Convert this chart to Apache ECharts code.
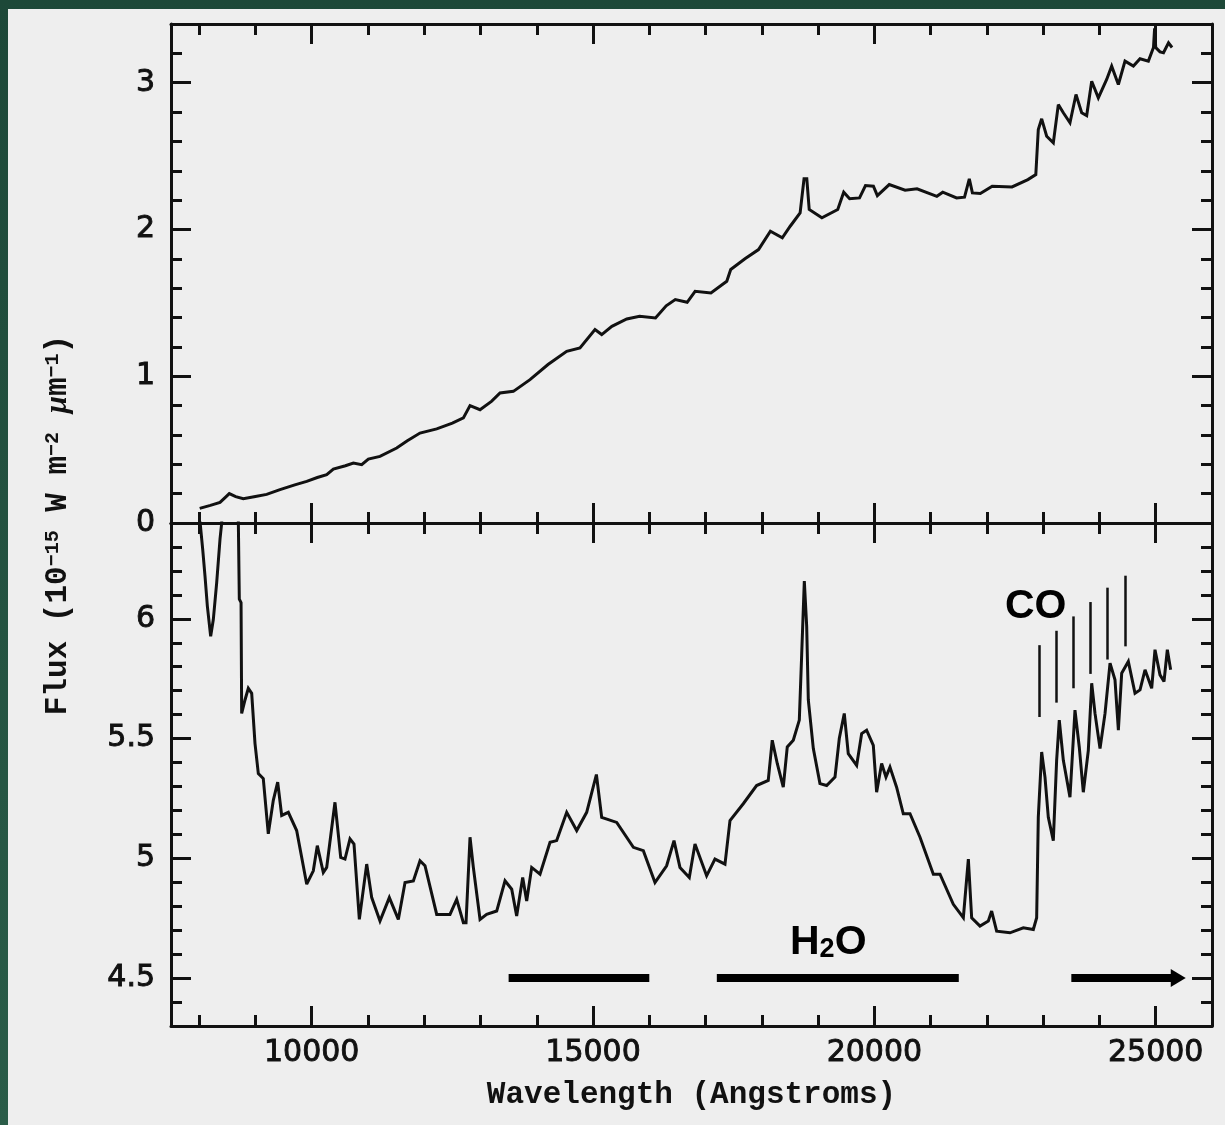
<!DOCTYPE html>
<html><head><meta charset="utf-8">
<script src="https://cdn.jsdelivr.net/npm/echarts@6/dist/echarts.min.js"></script>
<style>
html,body{margin:0;padding:0;width:1225px;height:1125px;overflow:hidden;background:linear-gradient(#1d4838,#2a5c48);}
#c{position:absolute;left:8px;top:9px;width:1217px;height:1116px;}
</style></head><body><div id="c"></div>
<script>
// ---- data ----
const topWavelength = [8010,8200,8371,8480,8536,8650,8785,9000,9200,9437,9700,9912,10100,10267,10385,10600,10741,10889,11007,11214,11511,11700,11925,12222,12500,12696,12814,12992,13200,13347,13584,13880,14200,14532,14768,15035,15154,15335,15600,15828,16110,16300,16462,16673,16814,17095,17377,17447,17700,17941,18152,18364,18504,18680,18750,18799,18842,19067,19349,19455,19560,19736,19842,19983,20053,20264,20546,20758,21110,21215,21461,21602,21687,21742,21883,22094,22446,22728,22869,22913,22973,23062,23180,23269,23358,23476,23583,23684,23773,23862,23980,24128,24217,24336,24454,24603,24721,24869,24960,24980,25000,25076,25138,25227,25290];
const topFlux = [0.10,0.12,0.14,0.18,0.20,0.18,0.165,0.18,0.195,0.227,0.26,0.284,0.31,0.33,0.368,0.39,0.409,0.397,0.436,0.454,0.511,0.56,0.613,0.641,0.68,0.716,0.80,0.772,0.83,0.886,0.897,0.977,1.08,1.17,1.193,1.318,1.284,1.34,1.39,1.408,1.397,1.48,1.522,1.504,1.579,1.568,1.647,1.727,1.80,1.863,1.988,1.943,2.022,2.113,2.345,2.345,2.136,2.079,2.136,2.254,2.209,2.215,2.299,2.295,2.231,2.306,2.267,2.277,2.226,2.254,2.215,2.22,2.345,2.249,2.245,2.295,2.29,2.34,2.374,2.681,2.754,2.635,2.59,2.851,2.795,2.727,2.92,2.795,2.776,3.01,2.897,3.022,3.113,2.988,3.147,3.113,3.163,3.147,3.24,3.37,3.24,3.21,3.204,3.272,3.24];

const bottomWavelength = [8010,8063,8104,8146,8205,8252,8312,8371,8401,8470,8640,8697,8714,8745,8756,8815,8874,8934,8993,9052,9140,9229,9318,9396,9467,9585,9733,9912,10029,10100,10207,10267,10414,10516,10592,10681,10752,10847,10978,11067,11214,11380,11540,11659,11807,11925,12014,12222,12458,12577,12696,12743,12814,12873,12992,13110,13288,13436,13555,13643,13750,13821,13910,14058,14236,14354,14532,14710,14887,15060,15154,15421,15717,15894,16101,16308,16439,16545,16711,16812,17019,17167,17345,17434,17670,17907,18114,18185,18274,18381,18452,18559,18666,18708,18755,18797,18826,18915,19033,19152,19300,19377,19465,19536,19685,19774,19862,19981,20040,20129,20206,20277,20395,20514,20633,20811,21048,21166,21403,21581,21670,21729,21877,22025,22084,22173,22410,22647,22825,22884,22913,22973,23032,23091,23180,23239,23286,23358,23476,23565,23641,23713,23802,23862,23921,24010,24099,24188,24276,24336,24395,24513,24632,24721,24810,24928,24987,25076,25147,25206,25265];
const bottomFlux = [6.42,6.291,6.179,6.053,5.927,5.997,6.151,6.333,6.40,7.0,7.0,6.40,6.082,6.068,5.605,5.661,5.71,5.689,5.479,5.354,5.333,5.102,5.242,5.318,5.179,5.192,5.116,4.892,4.948,5.053,4.941,4.962,5.234,5.004,4.997,5.081,5.06,4.745,4.976,4.836,4.738,4.836,4.745,4.899,4.906,4.99,4.969,4.766,4.766,4.829,4.731,4.731,5.088,4.962,4.745,4.766,4.78,4.906,4.871,4.759,4.92,4.822,4.962,4.934,5.067,5.074,5.192,5.116,5.192,5.35,5.171,5.15,5.046,5.032,4.899,4.969,5.074,4.962,4.92,5.06,4.927,4.997,4.976,5.158,5.228,5.304,5.325,5.493,5.396,5.297,5.465,5.493,5.577,5.85,6.158,5.969,5.661,5.458,5.312,5.304,5.339,5.501,5.605,5.437,5.388,5.521,5.535,5.472,5.276,5.396,5.339,5.381,5.297,5.186,5.186,5.088,4.934,4.934,4.808,4.752,4.997,4.752,4.717,4.738,4.78,4.696,4.689,4.71,4.703,4.752,5.171,5.444,5.339,5.171,5.074,5.409,5.577,5.409,5.255,5.619,5.465,5.276,5.451,5.731,5.605,5.458,5.605,5.815,5.745,5.535,5.773,5.822,5.689,5.703,5.787,5.71,5.871,5.766,5.738,5.871,5.787];

// axis ticks and labels
const xMajorTicks = [10000,15000,20000,25000];
const xMinorTicks = [8000,9000,11000,12000,13000,14000,16000,17000,18000,19000,21000,22000,23000,24000];
const topMajorTicks = [0,1,2,3];
const topMinorTicks = [0.2,0.4,0.6,0.8,1.2,1.4,1.6,1.8,2.2,2.4,2.6,2.8,3.2];
const bottomMajorTicks = [4.5,5,5.5,6];
const bottomMinorTicks = [4.4,4.6,4.7,4.8,4.9,5.1,5.2,5.3,5.4,5.6,5.7,5.8,5.9,6.1,6.2,6.3];

// CO bandheads (wavelength, marker bottom, marker top)
const coWavelength = [22935,23227,23535,23829,24142,24461];
const coMarkLow = [5.59,5.65,5.71,5.77,5.83,5.885];
const coMarkHigh = [5.89,5.95,6.01,6.07,6.13,6.18];
// H2O absorption bands
const h2oStart = [13500,17200,23500];
const h2oEnd = [16000,21500,25400];
const h2oLevel = 4.5;

// ---- chart ----
const INK = '#111';
const X_MIN = 7500, X_MAX = 26000;
const labelFont = {color: INK, fontFamily: 'DejaVu Sans', fontSize: 30, textBorderColor: INK, textBorderWidth: 0.9};

function xAxis(grid, pos, ticks, len, labels) {
  return {type: 'value', gridIndex: grid, position: pos, min: X_MIN, max: X_MAX,
    axisLine: {show: len > 15, onZero: false, lineStyle: {color: INK, width: 3}},
    axisTick: {show: true, inside: true, length: len, customValues: ticks, lineStyle: {color: INK, width: 3}},
    axisLabel: Object.assign({show: !!labels, customValues: ticks, margin: 12, formatter: v => String(v)}, labelFont),
    splitLine: {show: false}, minorTick: {show: false}};
}
function yAxis(grid, pos, min, max, ticks, len, labels) {
  return {type: 'value', gridIndex: grid, position: pos, min: min, max: max,
    axisLine: {show: len > 15, onZero: false, lineStyle: {color: INK, width: 3}},
    axisTick: {show: true, inside: true, length: len, customValues: ticks, lineStyle: {color: INK, width: 3}},
    axisLabel: Object.assign({show: !!labels, customValues: ticks, margin: 16, formatter: v => String(v)}, labelFont),
    splitLine: {show: false}, minorTick: {show: false}};
}

const MAJ = 20, MIN = 11;
const option = {
  animation: false,
  backgroundColor: '#eeeeee',
  grid: [
    {left: 163, top: 15, width: 1041, height: 499},
    {left: 163, top: 514, width: 1041, height: 503}
  ],
  xAxis: [
    xAxis(0, 'bottom', xMajorTicks, MAJ, false),
    xAxis(0, 'bottom', xMinorTicks, MIN, false),
    xAxis(0, 'top', xMajorTicks, MAJ, false),
    xAxis(0, 'top', xMinorTicks, MIN, false),
    xAxis(1, 'top', xMajorTicks, MAJ, false),
    xAxis(1, 'top', xMinorTicks, MIN, false),
    xAxis(1, 'bottom', xMajorTicks, MAJ, true),
    xAxis(1, 'bottom', xMinorTicks, MIN, false)
  ],
  yAxis: [
    yAxis(0, 'left', 0, 3.4, topMajorTicks, MAJ, true),
    yAxis(0, 'left', 0, 3.4, topMinorTicks, MIN, false),
    yAxis(0, 'right', 0, 3.4, topMajorTicks, MAJ, false),
    yAxis(0, 'right', 0, 3.4, topMinorTicks, MIN, false),
    yAxis(1, 'left', 4.3, 6.4, bottomMajorTicks, MAJ, true),
    yAxis(1, 'left', 4.3, 6.4, bottomMinorTicks, MIN, false),
    yAxis(1, 'right', 4.3, 6.4, bottomMajorTicks, MAJ, false),
    yAxis(1, 'right', 4.3, 6.4, bottomMinorTicks, MIN, false)
  ],
  series: [
    {type: 'line', xAxisIndex: 0, yAxisIndex: 0, showSymbol: false, symbol: 'none', clip: true,
     lineStyle: {color: INK, width: 3, join: 'miter', miterLimit: 3}, z: 5,
     data: topWavelength.map((w, i) => [w, topFlux[i]])},
    {type: 'line', xAxisIndex: 4, yAxisIndex: 4, showSymbol: false, symbol: 'none', clip: true,
     lineStyle: {color: INK, width: 3, join: 'miter', miterLimit: 3}, z: 5,
     data: bottomWavelength.map((w, i) => [w, bottomFlux[i]]),
     markLine: {silent: true, symbol: ['none', 'none'], label: {show: false},
       lineStyle: {color: INK, width: 2.5, type: 'solid'},
       data: coWavelength.map((w, i) => [{coord: [w, coMarkLow[i]]}, {coord: [w, coMarkHigh[i]]}])}},
    {type: 'line', xAxisIndex: 4, yAxisIndex: 4, showSymbol: false, symbol: 'none', data: [],
     markLine: {silent: true, symbol: ['none', 'none'], label: {show: false},
       lineStyle: {color: '#000', width: 8, type: 'solid'},
       data: h2oStart.map((s, i) => [
         {coord: [s, h2oLevel], symbol: 'none'},
         {coord: [h2oEnd[i], h2oLevel], symbol: i === h2oStart.length - 1 ? 'triangle' : 'none', symbolSize: [18, 15]}
       ])}}
  ],
  graphic: [
    {type: 'text', x: 683.5, y: 1086, style: {text: 'Wavelength (Angstroms)', fill: INK,
      fontFamily: 'Liberation Mono', fontWeight: 'bold', fontSize: 31, textAlign: 'center', textVerticalAlign: 'middle'}},
    {type: 'text', x: 50, y: 516, rotation: Math.PI / 2, style: {
      text: 'Flux (10{s|−15} W m{s|−2} {mu|μ}m{s|−1})', fill: INK,
      fontFamily: 'Liberation Mono', fontWeight: 'bold', fontSize: 31, textAlign: 'center', textVerticalAlign: 'middle',
      rich: {s: {fontFamily: 'Liberation Mono', fontWeight: 'bold', fontSize: 20, verticalAlign: 'top', fill: INK},
             mu: {fontFamily: 'Liberation Serif', fontStyle: 'italic', fontWeight: 'bold', fontSize: 31, fill: INK}}}},
    {type: 'text', x: 997, y: 598, style: {text: 'CO', fill: '#000', fontFamily: 'Liberation Sans', fontWeight: 'bold',
      fontSize: 41, textAlign: 'left', textVerticalAlign: 'middle'}},
    {type: 'text', x: 782, y: 934, style: {text: 'H{sub|2}O', fill: '#000', fontFamily: 'Liberation Sans', fontWeight: 'bold',
      fontSize: 41, textAlign: 'left', textVerticalAlign: 'middle',
      rich: {sub: {fontFamily: 'Liberation Sans', fontWeight: 'bold', fontSize: 27, verticalAlign: 'bottom', fill: '#000'}}}}
  ]
};
const chart = echarts.init(document.getElementById('c'));
chart.setOption(option);
</script></body></html>
